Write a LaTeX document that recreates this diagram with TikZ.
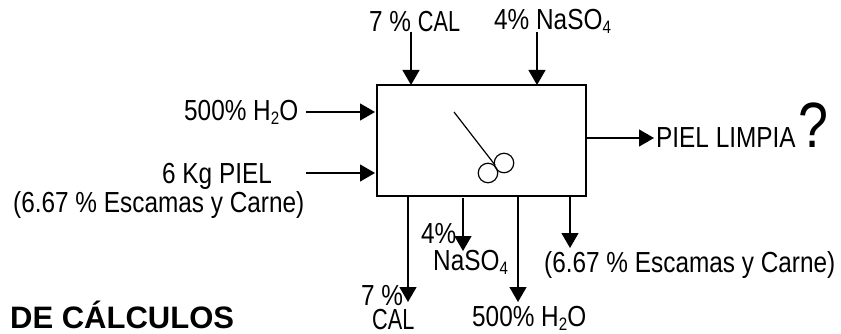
\documentclass[tikz,border=0pt]{standalone}
\usepackage{fontspec}
\setmainfont[FakeStretch=0.84]{Liberation Sans}
\newfontfamily\boldhead{Liberation Sans}
\usetikzlibrary{arrows.meta, positioning}
\newcommand{\subnum}[1]{\raisebox{-4pt}{\fontsize{18}{18}\selectfont #1}}
\newcommand{\calword}{\scalebox{.89}[1]{CAL}}
\tikzset{
  flow/.style={draw=black, line width=1.3pt, -{Triangle[length=15pt, width=17pt]}},
  lbl/.style={inner sep=0pt, anchor=base west, font=\fontsize{29}{30}\selectfont},
  tank/.style={draw=black, line width=1.7pt, minimum width=209pt, minimum height=110.5pt, inner sep=0pt},
  stirrer/.style={draw=black, line width=1.2pt}
}
\begin{document}
\begin{tikzpicture}[x=1pt, y=-1pt]
  \useasboundingbox (0,0) rectangle (841,334);
  % vessel
  \node[tank] (tank) at (481.5,140.5) {};
  \coordinate (calin) at (411,85);
  \coordinate (naoin) at (537,85);
  \coordinate (h2oin) at (375,112);
  \coordinate (pielin) at (375,173);
  \coordinate (calout) at (408,196);
  \coordinate (naout) at (463,198);
  \coordinate (h2oout) at (518,196);
  \coordinate (escout) at (570,196);
  % labels
  \node[lbl] (caltop) at (369,32) {7 \% \calword};
  \node[lbl] (naotop) at (494,30) {4\% NaSO\subnum{4}};
  \node[lbl] (h2oleft) at (184,121) {500\% H\subnum{2}O};
  \node[lbl] (piel) at (162,183) {6 Kg PIEL};
  \node[lbl] (esc) at (13,212) {(6.67 \% Escamas y Carne)};
  \node[lbl] (limpia) at (656,148) {PIEL LIMPIA};
  \node[lbl, font=\fontsize{64}{64}\selectfont] (quest) at (798,148) {?};
  \node[lbl] (naoa) at (421,243) {4\%};
  \node[lbl] (naob) at (433,270) {NaSO\subnum{4}};
  \node[lbl] (calb) at (361,305) {7 \%};
  \node[lbl] (calc) at (372,329) {\calword};
  \node[lbl] (h2obot) at (472,326) {500\% H\subnum{2}O};
  \node[lbl] (escbot) at (544,272) {(6.67 \% Escamas y Carne)};
  \node[lbl, font=\boldhead\bfseries\fontsize{31}{32}\selectfont] (calculos) at (10,328) {DE CÁLCULOS};
  % streams
  \coordinate (caltail) at (411,32);
  \coordinate (naotail) at (537,32);
  \coordinate (h2otail) at (306,112);
  \coordinate (pieltail) at (306,173);
  \coordinate (limpiaend) at (654,138);
  \draw[flow] (caltail) -- (calin);
  \draw[flow] (naotail) -- (naoin);
  \draw[flow] (h2otail) -- (h2oin);
  \draw[flow] (pieltail) -- (pielin);
  \draw[flow] (tank.east |- limpiaend) -- (limpiaend);
  \coordinate (calend) at (408,302);
  \coordinate (naend) at (463,251);
  \coordinate (h2oend) at (518,302);
  \coordinate (escend) at (570,248);
  \draw[flow] (calout) -- (calend);
  \draw[flow] (naout) -- (naend);
  \draw[flow] (h2oout) -- (h2oend);
  \draw[flow] (escout) -- (escend);
  % stirrer
  \coordinate (shaft) at (454,112);
  \coordinate (hub) at (495,165);
  \draw[stirrer] (shaft) -- (hub);
  \node[stirrer, circle, minimum size=19.5pt, inner sep=0pt] (blade) at (488,173) {};
  \node[stirrer, circle, minimum size=19.5pt, inner sep=0pt] (bladeb) at (504,163) {};
\end{tikzpicture}
\end{document}
